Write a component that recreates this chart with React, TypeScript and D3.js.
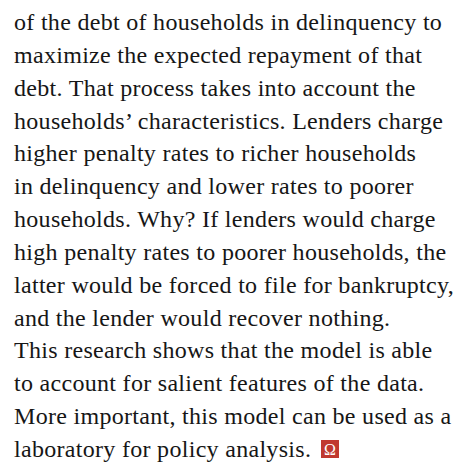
import * as d3 from "d3";

const W = 472;
const H = 468;

// paragraph lines, as broken in the page
const lines = [
  "of the debt of households in delinquency to",
  "maximize the expected repayment of that",
  "debt. That process takes into account the",
  "households\u2019 characteristics. Lenders charge",
  "higher penalty rates to richer households",
  "in delinquency and lower rates to poorer",
  "households. Why? If lenders would charge",
  "high penalty rates to poorer households, the",
  "latter would be forced to file for bankruptcy,",
  "and the lender would recover nothing.",
  "This research shows that the model is able",
  "to account for salient features of the data.",
  "More important, this model can be used as a",
  "laboratory for policy analysis.",
];
const endMark = "\u03A9";

const fontSize = 24;
const left = 14;

export default function App() {
  const y = d3
    .scalePoint<number>()
    .domain(d3.range(lines.length))
    .range([30, 457]);

  const last = lines.length - 1;
  const boxX = 321;
  const boxS = 18;

  return (
    <svg
      width={W}
      height={H}
      style={{ position: "absolute", left: 0, top: 0, background: "#fff" }}
    >
      {lines.map((t, i) => (
        <text
          key={i}
          x={left}
          y={y(i)}
          fontFamily="'Liberation Serif', serif"
          fontSize={fontSize}
          letterSpacing={0.3}
          fill="#161616"
        >
          {t}
        </text>
      ))}
      <rect
        x={boxX}
        y={(y(last) as number) - 17}
        width={boxS}
        height={boxS}
        fill="#c0392f"
      />
      <text
        x={boxX + boxS / 2}
        y={(y(last) as number) - 2.5}
        textAnchor="middle"
        fontFamily="'Liberation Serif', serif"
        fontSize={16}
        fill="#fff"
      >
        {endMark}
      </text>
    </svg>
  );
}
